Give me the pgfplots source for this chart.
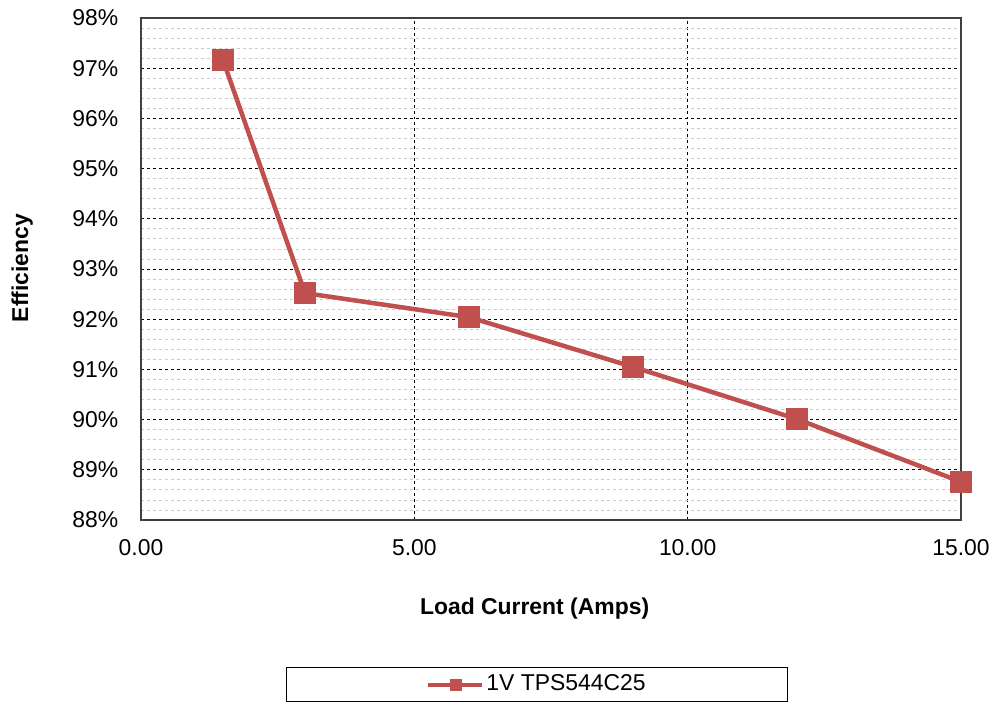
\documentclass[border=0pt]{standalone}
\usepackage{pgfplots}
\pgfplotsset{compat=1.18}
\usepackage{fontspec}
\setmainfont{Liberation Sans}
\definecolor{serred}{HTML}{C0504D}
\definecolor{axgray}{HTML}{404040}
\begin{document}
\fontsize{23pt}{27pt}\selectfont
\begin{tikzpicture}
\useasboundingbox (0,0) rectangle (994bp,706bp);
\begin{axis}[
  at={(141bp,186bp)}, anchor=south west,
  scale only axis, width=820bp, height=502bp,
  xmin=0, xmax=15, ymin=88, ymax=98,
  xtick={0,5,10,15}, ytick={88,89,...,98},
  minor y tick num=4,
  xmajorgrids, ymajorgrids, yminorgrids,
  major grid style={black, dashed, line width=0.8bp},
  minor grid style={gray!40, dashed, line width=0.8bp},
  major tick length=0, minor tick length=0,
  axis line style={axgray, line width=1.5bp},
  /pgf/number format/assume math mode=true,
  xticklabel={\pgfmathprintnumber[fixed,fixed zerofill,precision=2]{\tick}},
  yticklabel={\pgfmathprintnumber[fixed,precision=0]{\tick}\%},
  yticklabel style={xshift=-15bp},
  xticklabel style={yshift=-12bp},
  tick label style={font=\fontsize{23pt}{27pt}\selectfont},
  xlabel={\textbf{Load Current (Amps)}},
  ylabel={\textbf{Efficiency}},
  label style={font=\fontsize{23pt}{27pt}\selectfont},
  xlabel style={at={(axis description cs:0.48,-0.177)}, anchor=center},
  ylabel style={at={(axis description cs:-0.145,0.502)}, anchor=center, rotate=0},
  legend style={at={(axis description cs:0.483,-0.3277)}, anchor=center,
    draw=black, line width=1bp, inner xsep=140bp, inner ysep=5bp,
    font=\fontsize{23pt}{27pt}\selectfont},
  legend image code/.code={
    \draw[mark repeat=2, mark phase=2, mark size=5.5bp, line width=4bp]
      plot coordinates {(0bp,0bp) (27bp,0bp) (54bp,0bp)};
  },
]
\addplot[serred, line width=4.5bp, mark=square*, mark size=10.5bp,
  mark options={fill=serred, draw=serred, line width=0.5bp}]
  coordinates {(1.5,97.16) (3,92.52) (6,92.04) (9,91.05) (12,90.01) (15,88.76)};
\addlegendentry{1V\ TPS544C25}
\end{axis}
\end{tikzpicture}
\end{document}
